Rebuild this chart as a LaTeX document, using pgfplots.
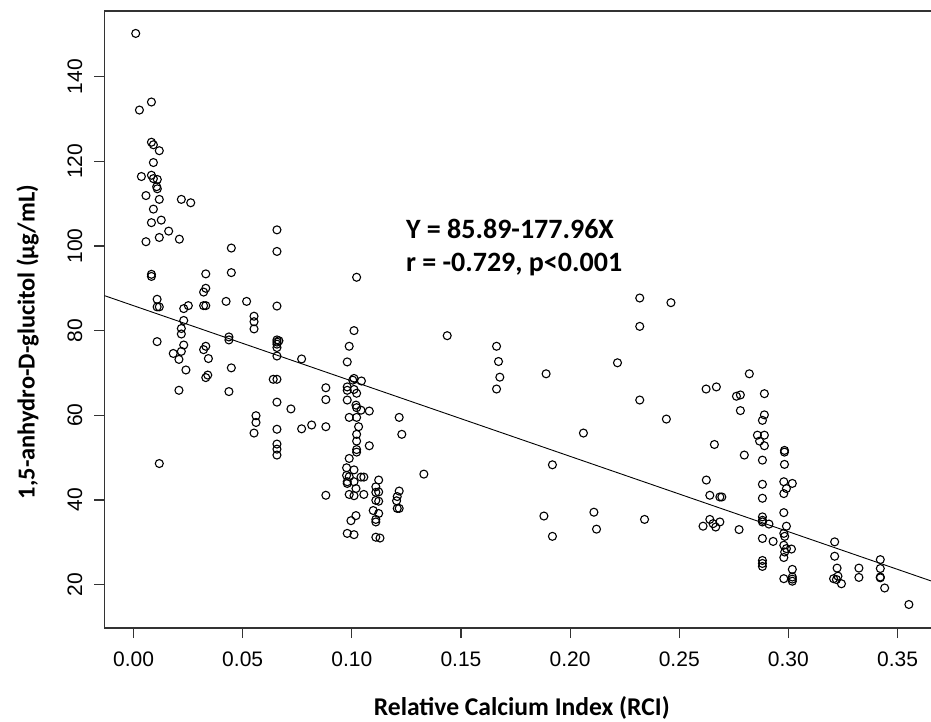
\documentclass[border=0pt]{standalone}
\usepackage{fontspec}
\setmainfont{Liberation Sans}
\newfontfamily\calibri{Carlito}
\usepackage{pgfplots}
\pgfplotsset{compat=1.18}
\begin{document}
\begin{tikzpicture}
\begin{axis}[
  at={(52.25pt,47pt)}, anchor=south west,
  scale only axis,
  width=417.25pt, height=308.5pt,
  xmin=-0.0133, xmax=0.369,
  ymin=9.75, ymax=155.5,
  axis line style={black!80, line width=0.6pt},
  tick style={black!80, line width=0.6pt},
  tick align=outside,
  major tick length=5pt,
  xtick pos=lower, ytick pos=left,
  xtick={0,0.05,0.1,0.15,0.2,0.25,0.3,0.35},
  ytick={20,40,60,80,100,120,140},
  xticklabel style={yshift=-3.5pt, /pgf/number format/fixed, /pgf/number format/fixed zerofill, /pgf/number format/precision=2},
  yticklabel style={xshift=-2.5pt, rotate=90, anchor=south},
  /pgf/number format/assume math mode=true,
  ticklabel style={font=\fontsize{10.5}{12}\selectfont},
  xlabel={\calibri\bfseries Relative Calcium Index (RCI)},
  ylabel={\calibri\bfseries 1,5-anhydro-D-glucitol (µg/mL)},
  xlabel style={yshift=-8pt, font=\fontsize{12.8}{15}\selectfont},
  ylabel style={yshift=7.5pt, xshift=-11.25pt, font=\fontsize{12.2}{15}\selectfont},
  clip=false,
]
\addplot[only marks, mark=o, mark size=2pt, mark options={line width=0.55pt, black}] coordinates {
(0.001,150.2) (0.0082,134.0) (0.0027,132.1) (0.0082,124.5) (0.0091,123.9)
(0.0118,122.5) (0.0091,119.7) (0.0036,116.4) (0.0082,116.7) (0.0091,115.9)
(0.0109,115.7) (0.0106,114.0) (0.0109,113.5) (0.0057,111.9) (0.0118,111.0)
(0.0219,111.0) (0.0262,110.2) (0.0091,108.7) (0.0082,105.5) (0.0127,106.1)
(0.0161,103.5) (0.0118,102.0) (0.0057,101.0) (0.021,101.6) (0.0657,103.8)
(0.0448,99.5) (0.0657,98.7) (0.0082,93.3) (0.0082,92.8) (0.0331,93.4)
(0.0448,93.7) (0.0108,87.4) (0.0108,85.6) (0.0118,85.6) (0.023,85.2)
(0.0251,85.9) (0.0321,89.1) (0.0331,90.0) (0.0321,85.9) (0.0331,85.9)
(0.0424,86.9) (0.0518,86.9) (0.0552,83.4) (0.0552,82.1) (0.0552,80.4)
(0.0657,85.8) (0.023,82.4) (0.0219,80.5) (0.0219,79.2) (0.0108,77.4)
(0.0437,78.5) (0.0437,77.8) (0.0657,77.8) (0.0666,77.6) (0.0657,77.3)
(0.0657,76.8) (0.0657,76.0) (0.0657,74.0) (0.023,76.6) (0.0219,75.1)
(0.0182,74.6) (0.0208,73.2) (0.0331,76.3) (0.0321,75.5) (0.0343,73.4)
(0.024,70.7) (0.0448,71.2) (0.0331,68.9) (0.034,69.5) (0.064,68.5)
(0.0657,68.5) (0.0208,65.9) (0.0437,65.6) (0.0657,63.1) (0.0721,61.5)
(0.0561,59.9) (0.0561,58.3) (0.0552,55.8) (0.0657,56.7) (0.0657,53.2)
(0.0657,52.0) (0.0657,50.6) (0.0118,48.6) (0.077,73.3) (0.077,56.8)
(0.0816,57.7) (0.0881,57.3)
(0.101,80.0) (0.0988,76.3) (0.0979,72.6) (0.101,68.7) (0.1004,68.3)
(0.1044,68.1) (0.1022,92.6) (0.1437,78.8) (0.0881,66.5) (0.0881,63.7)
(0.0979,66.7) (0.0979,65.9) (0.101,66.1) (0.1022,65.2) (0.0979,63.6)
(0.1019,62.4) (0.1022,61.8) (0.1042,61.2) (0.108,61.0) (0.0988,59.5)
(0.1022,59.5) (0.1031,57.3) (0.1022,55.5) (0.1022,53.9) (0.108,52.8)
(0.1022,51.9) (0.1022,51.3) (0.1217,59.5) (0.1229,55.5) (0.0988,49.8)
(0.0976,47.6) (0.101,47.1) (0.0976,45.8) (0.0988,45.5) (0.101,44.3)
(0.1042,45.4) (0.1055,45.4) (0.0979,44.3) (0.0979,43.9) (0.1123,44.7)
(0.111,43.1) (0.1123,41.9) (0.111,41.8) (0.1019,42.7) (0.0988,41.3)
(0.101,41.0) (0.1055,41.3) (0.0881,41.1) (0.111,39.9) (0.1123,39.7)
(0.1217,42.1) (0.1208,40.8) (0.1205,39.8) (0.1208,38.0) (0.1217,38.0)
(0.133,46.1) (0.1098,37.5) (0.1123,36.8) (0.111,35.4) (0.111,34.8)
(0.1019,36.3) (0.0996,35.1) (0.0979,32.1) (0.101,31.8) (0.111,31.2)
(0.1129,31.0)
(0.1663,76.3) (0.1672,72.7) (0.1678,69.0) (0.1663,66.2) (0.189,69.8)
(0.2217,72.4) (0.2061,55.8) (0.1919,48.3) (0.188,36.2) (0.1919,31.4)
(0.2109,37.1) (0.2121,33.1)
(0.2319,87.7) (0.2462,86.6) (0.2319,81.0) (0.2319,63.6) (0.2441,59.1)
(0.2821,69.8) (0.2623,66.2) (0.267,66.7) (0.2762,64.5) (0.278,64.8)
(0.289,65.1) (0.278,61.1) (0.289,60.1) (0.2881,58.8) (0.2858,55.3)
(0.289,55.3) (0.2868,53.9) (0.289,52.8) (0.2661,53.1) (0.2798,50.6)
(0.2881,49.4) (0.2982,51.7) (0.2982,51.3) (0.2982,48.4) (0.2624,44.7)
(0.2881,43.7) (0.2979,44.3) (0.3018,43.9) (0.2991,42.7) (0.2979,41.5)
(0.264,41.1) (0.2686,40.7) (0.2695,40.7) (0.2881,40.4) (0.2341,35.4)
(0.264,35.4) (0.2609,33.8) (0.2655,34.4) (0.2667,33.6) (0.2686,34.8)
(0.2774,33.0) (0.2881,36.0) (0.2881,35.2) (0.2881,34.8) (0.2911,34.3)
(0.2979,37.0) (0.2991,33.8) (0.2979,32.1) (0.2983,31.4) (0.2979,29.3)
(0.2991,28.5) (0.2983,27.7) (0.3014,28.4) (0.2979,26.4) (0.293,30.2)
(0.2881,30.9) (0.2881,25.7) (0.2881,25.0) (0.2881,24.3) (0.3018,23.6)
(0.3018,21.8) (0.3018,21.3) (0.3018,20.8) (0.2979,21.4) (0.3212,30.1)
(0.3212,26.7) (0.3223,23.9) (0.3207,21.4) (0.322,21.2) (0.3227,22.0)
(0.3243,20.2) (0.3323,23.9) (0.3323,21.7) (0.3421,25.9) (0.3421,23.8)
(0.3421,21.8) (0.3421,21.6) (0.3441,19.2) (0.3552,15.3)
};
% fitted line Y = 85.89 - 177.96 X
\addplot[black, line width=0.45pt] coordinates {(-0.0133,88.257) (0.369,20.22)};
\node[anchor=base west, font=\calibri\bfseries\fontsize{14}{16}\selectfont] at (axis cs:0.1216,101.7) {Y = 85.89-177.96X};
\node[anchor=base west, font=\calibri\bfseries\fontsize{14}{16}\selectfont] at (axis cs:0.1216,93.9) {r = -0.729, p<0.001};
\end{axis}
\pgfresetboundingbox
\useasboundingbox (0,0) rectangle (465.5pt,361pt);
\end{tikzpicture}
\end{document}
